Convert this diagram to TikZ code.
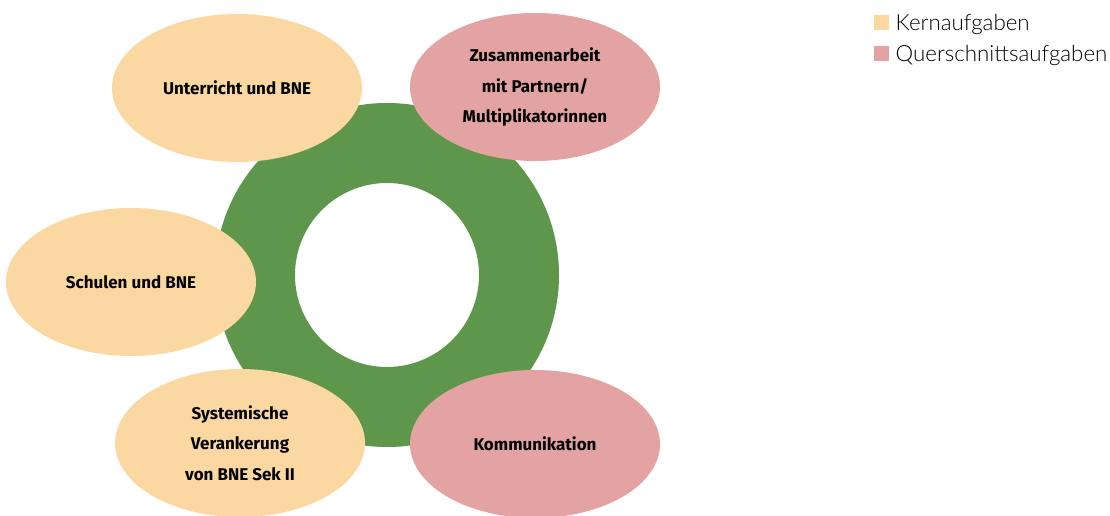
\documentclass[tikz,border=0pt]{standalone}
\usepackage{fontspec}
\setmainfont{Fira Sans}
\newfontfamily\legendfont{Lato Light}
\definecolor{kern}{HTML}{FBD8A1}
\definecolor{quer}{HTML}{E4A3A3}
\definecolor{ring}{HTML}{5E964B}
\tikzset{
  task/.style={ellipse, minimum width=250pt, minimum height=148pt, inner sep=0pt,
    align=center, font=\fontsize{17}{30.5}\selectfont\bfseries},
  legendbox/.style={minimum size=15pt, inner sep=0pt},
  legendtext/.style={font=\legendfont\fontsize{22.3}{22}\selectfont}
}
\usetikzlibrary{shapes.geometric,positioning}
\begin{document}
\begin{tikzpicture}[x=1pt,y=-1pt]
\useasboundingbox (0,0) rectangle (1110,516);
% The green ring
\fill[ring,even odd rule] (387,275) circle[radius=172] (387,275) circle[radius=92];
% Core tasks
\node[task,fill=kern] (unterricht) at (237,88) {Unterricht und BNE};
\node[task,fill=kern] (schulen) at (131,282) {Schulen und BNE};
\node[task,fill=kern] (systemisch) at (240,443) {Systemische\\Verankerung\\von BNE Sek II};
% Cross-sectional tasks
\node[task,fill=quer] (zusammen) at (535,87) {Zusammenarbeit\\mit Partnern/\\Multiplikatorinnen};
\node[task,fill=quer] (kommunikation) at (535,444) {Kommunikation};
% The legend
\node[legendbox,fill=kern] (kernbox) at (881.5,22.5) {};
\node[legendbox,fill=quer,below=16pt of kernbox] (querbox) {};
\node[legendtext,right=3pt of kernbox,yshift=-2pt] (kernlabel) {Kernaufgaben};
\node[legendtext,right=3pt of querbox,yshift=-2pt] (querlabel) {Querschnittsaufgaben};
\end{tikzpicture}
\end{document}
